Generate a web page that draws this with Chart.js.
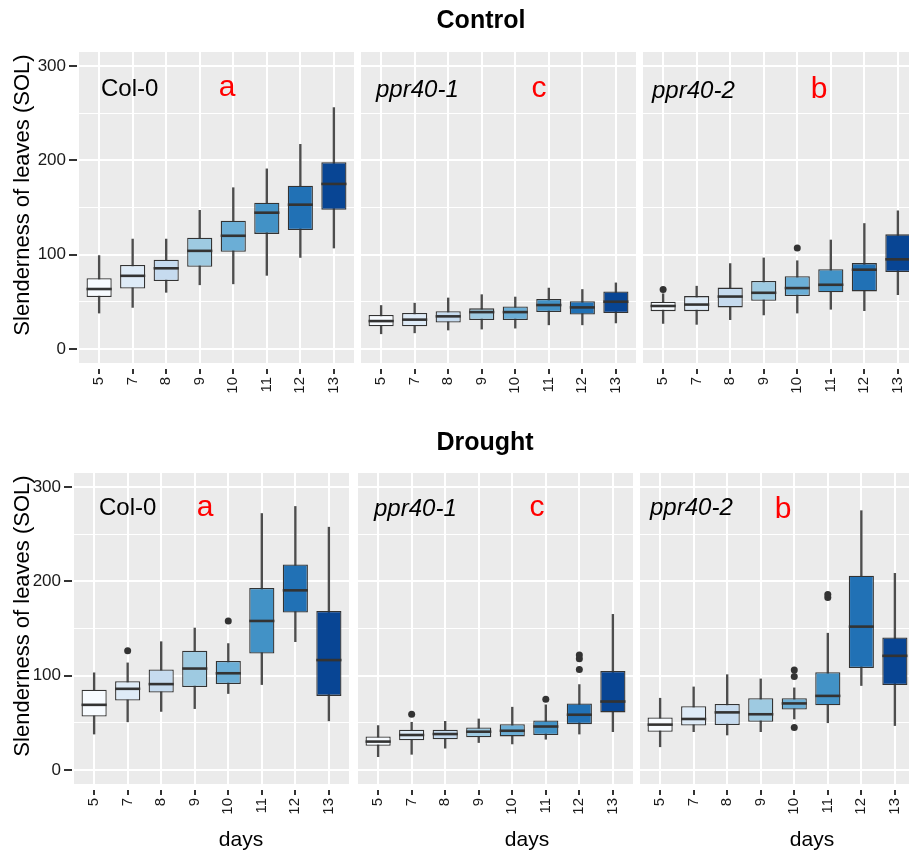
<!DOCTYPE html>
<html lang="en">
<head>
<meta charset="UTF-8">
<title>Slenderness of leaves</title>
<script src="https://cdn.jsdelivr.net/npm/chart.js@4"></script>
<style>
    html, body {
        margin: 0;
        padding: 0;
        overflow: hidden;
        background: #fff;
    }
    #fig {
        position: relative;
        width: 909px;
        height: 851px;
        overflow: hidden;
        font-family: "Liberation Sans", Arial, sans-serif;
    }
    canvas { position: absolute; }
    .txt {
        position: absolute;
        white-space: nowrap;
        line-height: 1;
        color: #000;
    }
    .ttl { font-weight: bold; font-size: 25px; transform: translateX(-50%); }
    .geno { font-size: 24px; }
    .geno.i { font-style: italic; }
    .grp { font-size: 30px; color: #ff0000; transform: translateX(-50%); }
    .days { font-size: 21px; transform: translateX(-50%); }
    .ylab { font-size: 22px; transform: translate(-50%, -50%) rotate(-90deg); }
</style>
</head>
<body>
<div id="fig">
    <canvas id="c1" width="354" height="391" style="left:0;top:32px"></canvas>
    <canvas id="c2" width="275" height="391" style="left:361px;top:32px"></canvas>
    <canvas id="c3" width="275" height="391" style="left:643px;top:32px"></canvas>
    <canvas id="d1" width="349" height="391" style="left:0;top:453px"></canvas>
    <canvas id="d2" width="275" height="391" style="left:358px;top:453px"></canvas>
    <canvas id="d3" width="275" height="391" style="left:640px;top:453px"></canvas>

    <div class="txt ttl" style="left:481px;top:7px">Control</div>
    <div class="txt ttl" style="left:485px;top:429px">Drought</div>

    <div class="txt ylab" style="left:22px;top:195px">Slenderness of leaves (SOL)</div>
    <div class="txt ylab" style="left:22px;top:616px">Slenderness of leaves (SOL)</div>

    <div class="txt geno" style="left:101px;top:76px">Col-0</div>
    <div class="txt grp" style="left:227px;top:71px">a</div>
    <div class="txt geno i" style="left:376px;top:77px">ppr40-1</div>
    <div class="txt grp" style="left:539px;top:72px">c</div>
    <div class="txt geno i" style="left:652px;top:78px">ppr40-2</div>
    <div class="txt grp" style="left:819px;top:73px">b</div>

    <div class="txt geno" style="left:99px;top:495px">Col-0</div>
    <div class="txt grp" style="left:205px;top:491px">a</div>
    <div class="txt geno i" style="left:374px;top:496px">ppr40-1</div>
    <div class="txt grp" style="left:537px;top:491px">c</div>
    <div class="txt geno i" style="left:650px;top:495px">ppr40-2</div>
    <div class="txt grp" style="left:783px;top:493px">b</div>

    <div class="txt days" style="left:241px;top:828px">days</div>
    <div class="txt days" style="left:527px;top:828px">days</div>
    <div class="txt days" style="left:812px;top:828px">days</div>
</div>
<script>
// dagen en y-as
const days = ['5', '7', '8', '9', '10', '11', '12', '13'];
const yTicks = [0, 50, 100, 150, 200, 250, 300];
const blues = ['#F7FBFF', '#DEEBF7', '#C6DBEF', '#9ECAE1', '#6BAED6', '#4292C6', '#2171B5', '#084594'];

// per dag: [onderste whisker, Q1, mediaan, Q3, bovenste whisker]
const controlCol0 = [
    [38, 55, 63.5, 75, 99],
    [44, 64, 77.5, 89, 116.5],
    [60, 72, 85.5, 94.5, 116.5],
    [68, 87, 104, 118, 147],
    [69, 103, 120, 136, 171],
    [78, 122, 144.5, 155, 191],
    [97, 126, 153, 173, 217],
    [107, 147.5, 175, 198, 256]
];
const controlCol0Out = [];

const controlPpr401 = [
    [16, 24, 29.5, 36, 46],
    [17, 24, 31, 38, 48.5],
    [20, 28, 34.5, 40, 54],
    [21, 30.5, 39, 43, 57.5],
    [22, 30.5, 39, 45, 55],
    [25.5, 39, 46.5, 53, 64.5],
    [25.5, 36.5, 44, 50.5, 63],
    [27.5, 38, 50, 61, 70]
];
const controlPpr401Out = [];

const controlPpr402 = [
    [27, 40, 45.5, 50, 58.5],
    [26, 40, 47, 56, 66.5],
    [31, 44, 55.5, 65, 90.5],
    [36, 51, 59.5, 72, 96.5],
    [38, 56, 64.5, 77, 93.5],
    [42, 60, 68, 84.5, 115.5],
    [40.5, 61, 84, 91, 133],
    [57.5, 81.5, 95, 121.5, 146.5]
];
const controlPpr402Out = [['5', 63], ['10', 107]];

const droughtCol0 = [
    [38, 56.5, 69, 85, 103],
    [51, 73.5, 86, 94, 113.5],
    [62, 82, 91, 106.5, 136],
    [65, 88, 107.5, 126.5, 150.5],
    [81, 91, 102.5, 115.5, 134],
    [90.5, 123.5, 158, 193, 272],
    [136, 167, 190.5, 218, 279.5],
    [52, 78.5, 116.5, 168.5, 257.5]
];
const droughtCol0Out = [['7', 126.5], ['10', 158]];

const droughtPpr401 = [
    [14, 25.5, 30, 35.5, 47],
    [16.5, 31.5, 37, 42.5, 50.5],
    [23, 32.5, 38, 42.5, 51.5],
    [29, 34.5, 40.5, 45, 54],
    [27.5, 35.5, 41.5, 48.5, 66.5],
    [32.5, 37, 46, 52.5, 69],
    [38, 48.5, 58.5, 70.5, 90.5],
    [40.5, 61, 72.5, 105, 165]
];
const droughtPpr401Out = [['7', 59], ['11', 75], ['12', 106.5], ['12', 118], ['12', 122]];

const droughtPpr402 = [
    [24.5, 40.5, 48, 55.5, 76],
    [40.5, 47, 54, 67.5, 88],
    [37, 47.5, 61, 70, 101],
    [40.5, 51, 59, 76, 96.5],
    [54, 64, 70.5, 76, 87],
    [50, 68.5, 78.5, 103.5, 145],
    [89.5, 108, 152, 206, 275],
    [47, 90, 121, 140.5, 208.5]
];
const droughtPpr402Out = [['10', 106], ['10', 99], ['10', 45], ['11', 183], ['11', 186]];

Chart.defaults.font.family = '"Liberation Sans", Arial, sans-serif';
Chart.defaults.animation = false;

// grijze paneelachtergrond zoals ggplot
const panelBg = {
    id: 'panelBg',
    beforeDraw(chart) {
        const a = chart.chartArea;
        chart.ctx.save();
        chart.ctx.fillStyle = '#EBEBEB';
        chart.ctx.fillRect(a.left, a.top, a.right - a.left, a.bottom - a.top);
        chart.ctx.restore();
    }
};

function halfBox(chart) {
    const a = chart.chartArea;
    return a ? (a.right - a.left) / 8.2 * 0.375 : 12.5;
}

function boxChart(id, stats, outliers, yWidth) {
    const showY = yWidth > 0;
    const pos = days.map((d, i) => i + 1);
    new Chart(document.getElementById(id), {
        type: 'bar',
        data: {
            datasets: [
                {
                    label: 'whisker',
                    data: stats.map((s, i) => ({ x: pos[i], y: [s[0], s[4]] })),
                    backgroundColor: '#4d4d4d',
                    barThickness: 1.7,
                    grouped: false,
                    order: 4
                },
                {
                    label: 'box',
                    data: stats.map((s, i) => ({ x: pos[i], y: [s[1], s[3]] })),
                    backgroundColor: blues,
                    borderColor: '#333',
                    borderWidth: 1.3,
                    borderSkipped: false,
                    barPercentage: 0.75,
                    categoryPercentage: 1,
                    grouped: false,
                    order: 3
                },
                {
                    type: 'line',
                    label: 'median',
                    data: stats.map((s, i) => ({ x: pos[i], y: s[2] })),
                    showLine: false,
                    pointStyle: 'line',
                    pointRadius: c => halfBox(c.chart),
                    pointBorderColor: '#333',
                    pointBorderWidth: 2.6,
                    order: 2
                },
                {
                    type: 'line',
                    label: 'outlier',
                    data: outliers.map(o => ({ x: days.indexOf(o[0]) + 1, y: o[1] })),
                    showLine: false,
                    pointRadius: 3.5,
                    pointBackgroundColor: '#333',
                    pointBorderColor: '#333',
                    pointBorderWidth: 0,
                    order: 1
                }
            ]
        },
        options: {
            responsive: false,
            maintainAspectRatio: false,
            events: [],
            layout: { autoPadding: false, padding: { top: 20, left: 0, right: 0, bottom: 0 } },
            plugins: { legend: { display: false }, tooltip: { enabled: false } },
            scales: {
                x: {
                    type: 'linear',
                    min: 0.4,
                    max: 8.6,
                    offset: false,
                    afterBuildTicks: s => { s.ticks = pos.map(p => ({ value: p })); },
                    afterFit: s => {
                        s.height = 60;
                        s.paddingLeft = 0;
                        s.paddingRight = 0;
                    },
                    ticks: {
                        callback: v => days[Math.round(v) - 1],
                        autoSkip: false,
                        minRotation: 90,
                        maxRotation: 90,
                        padding: 3,
                        color: '#1a1a1a',
                        font: { size: 15 }
                    },
                    grid: {
                        offset: false,
                        color: '#fff',
                        lineWidth: 2,
                        drawTicks: true,
                        tickLength: 11,
                        tickWidth: 2,
                        tickColor: '#333',
                        tickBorderDash: [0, 6, 5, 20]
                    },
                    border: { display: false }
                },
                y: {
                    min: -15,
                    max: 315,
                    afterBuildTicks: s => { s.ticks = yTicks.map(v => ({ value: v })); },
                    afterFit: s => {
                        s.width = yWidth;
                        s.paddingTop = 0;
                        s.paddingBottom = 0;
                    },
                    ticks: {
                        display: showY,
                        callback: v => (v % 100 === 0 ? String(v) : ''),
                        padding: 3,
                        color: '#1a1a1a',
                        font: { size: 17 }
                    },
                    grid: {
                        color: '#fff',
                        lineWidth: c => (c.tick && c.tick.value % 100 === 0 ? 2 : 1),
                        drawTicks: showY,
                        tickLength: 10,
                        tickWidth: 2,
                        tickColor: c => (c.tick && c.tick.value % 100 === 0 ? '#333' : 'rgba(0,0,0,0)'),
                        tickBorderDash: [8, 20]
                    },
                    border: { display: false }
                }
            }
        },
        plugins: [panelBg]
    });
}

boxChart('c1', controlCol0, controlCol0Out, 79);
boxChart('c2', controlPpr401, controlPpr401Out, 0);
boxChart('c3', controlPpr402, controlPpr402Out, 0);
boxChart('d1', droughtCol0, droughtCol0Out, 74);
boxChart('d2', droughtPpr401, droughtPpr401Out, 0);
boxChart('d3', droughtPpr402, droughtPpr402Out, 0);
</script>
</body>
</html>
